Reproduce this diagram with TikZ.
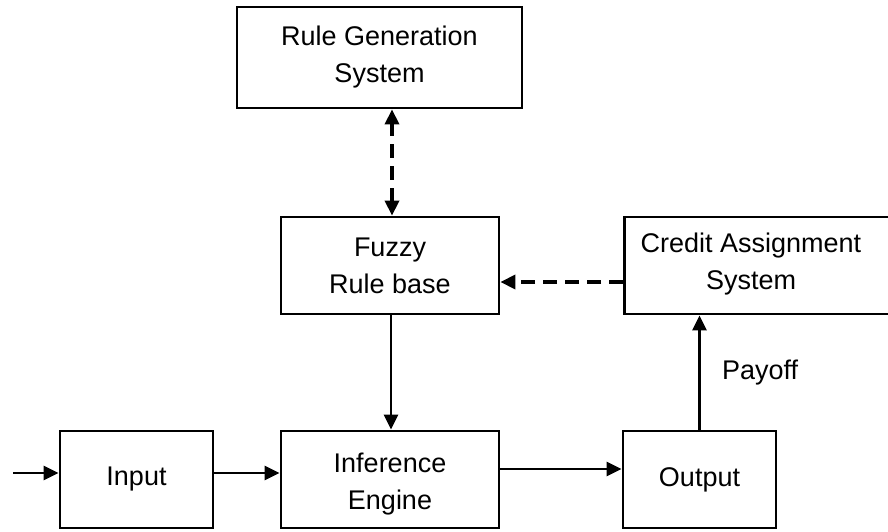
\documentclass[tikz,border=0pt]{standalone}
\usepackage{fontspec}
\setmainfont{Liberation Sans}
\usetikzlibrary{arrows.meta}
\begin{document}
\begin{tikzpicture}[x=1pt,y=-1pt,
  box/.style={draw,line width=2.8pt,inner sep=0pt,align=center,
    font=\fontsize{27}{37}\selectfont},
  lbl/.style={align=center,font=\fontsize{27}{37}\selectfont},
  tip/.tip={Triangle[length=15pt,width=14pt]},
  flow/.style={line width=2.6pt,-tip},
  feedback/.style={line width=3.6pt,dash pattern=on 14pt off 8pt,-tip},
]
\clip (0,0) rectangle (888,531);

% blocks
\node[box,minimum width=285,minimum height=101] (rg) at (379.5,57.5) {Rule Generation\\System};
\node[box,minimum width=218,minimum height=97] (fuzzy) at (390,265.5) {Fuzzy\\Rule base};
\node[box,minimum width=280,minimum height=97,anchor=west] (credit) at (623,265.5) {};
\node[lbl] (creditText) at (751,264.5) {Credit Assignment\\System};
\node[box,minimum width=153,minimum height=97] (input) at (136.5,479.5) {Input};
\node[box,minimum width=218,minimum height=97] (infer) at (390,479.5) {};
\node[lbl] (inferText) at (390,484) {Inference\\Engine};
\node[box,minimum width=153,minimum height=97] (output) at (699.5,479.5) {Output};

\coordinate (src) at (13,473);

% signal flow
\draw[flow] (src) -- ([yshift=6.5pt]input.west);
\draw[flow] ([yshift=6.5pt]input.east) -- ([yshift=6.5pt]infer.west);
\draw[flow] ([yshift=10.5pt]infer.east) -- ([yshift=10.5pt]output.west);
\draw[flow] ([xshift=1pt]fuzzy.south) -- ([xshift=1pt]infer.north);
\draw[flow] (output.north) -- (output.north |- credit.south)
  node[midway,right=18pt,lbl] (payoff) {Payoff};

% learning feedback
\draw[feedback,tip-tip]
  ([xshift=2pt]fuzzy.north) -- ([xshift=2pt]fuzzy.north |- rg.south);
\draw[feedback] ([yshift=-16.5pt]credit.west) -- ([yshift=-16.5pt]fuzzy.east);
\end{tikzpicture}
\end{document}
